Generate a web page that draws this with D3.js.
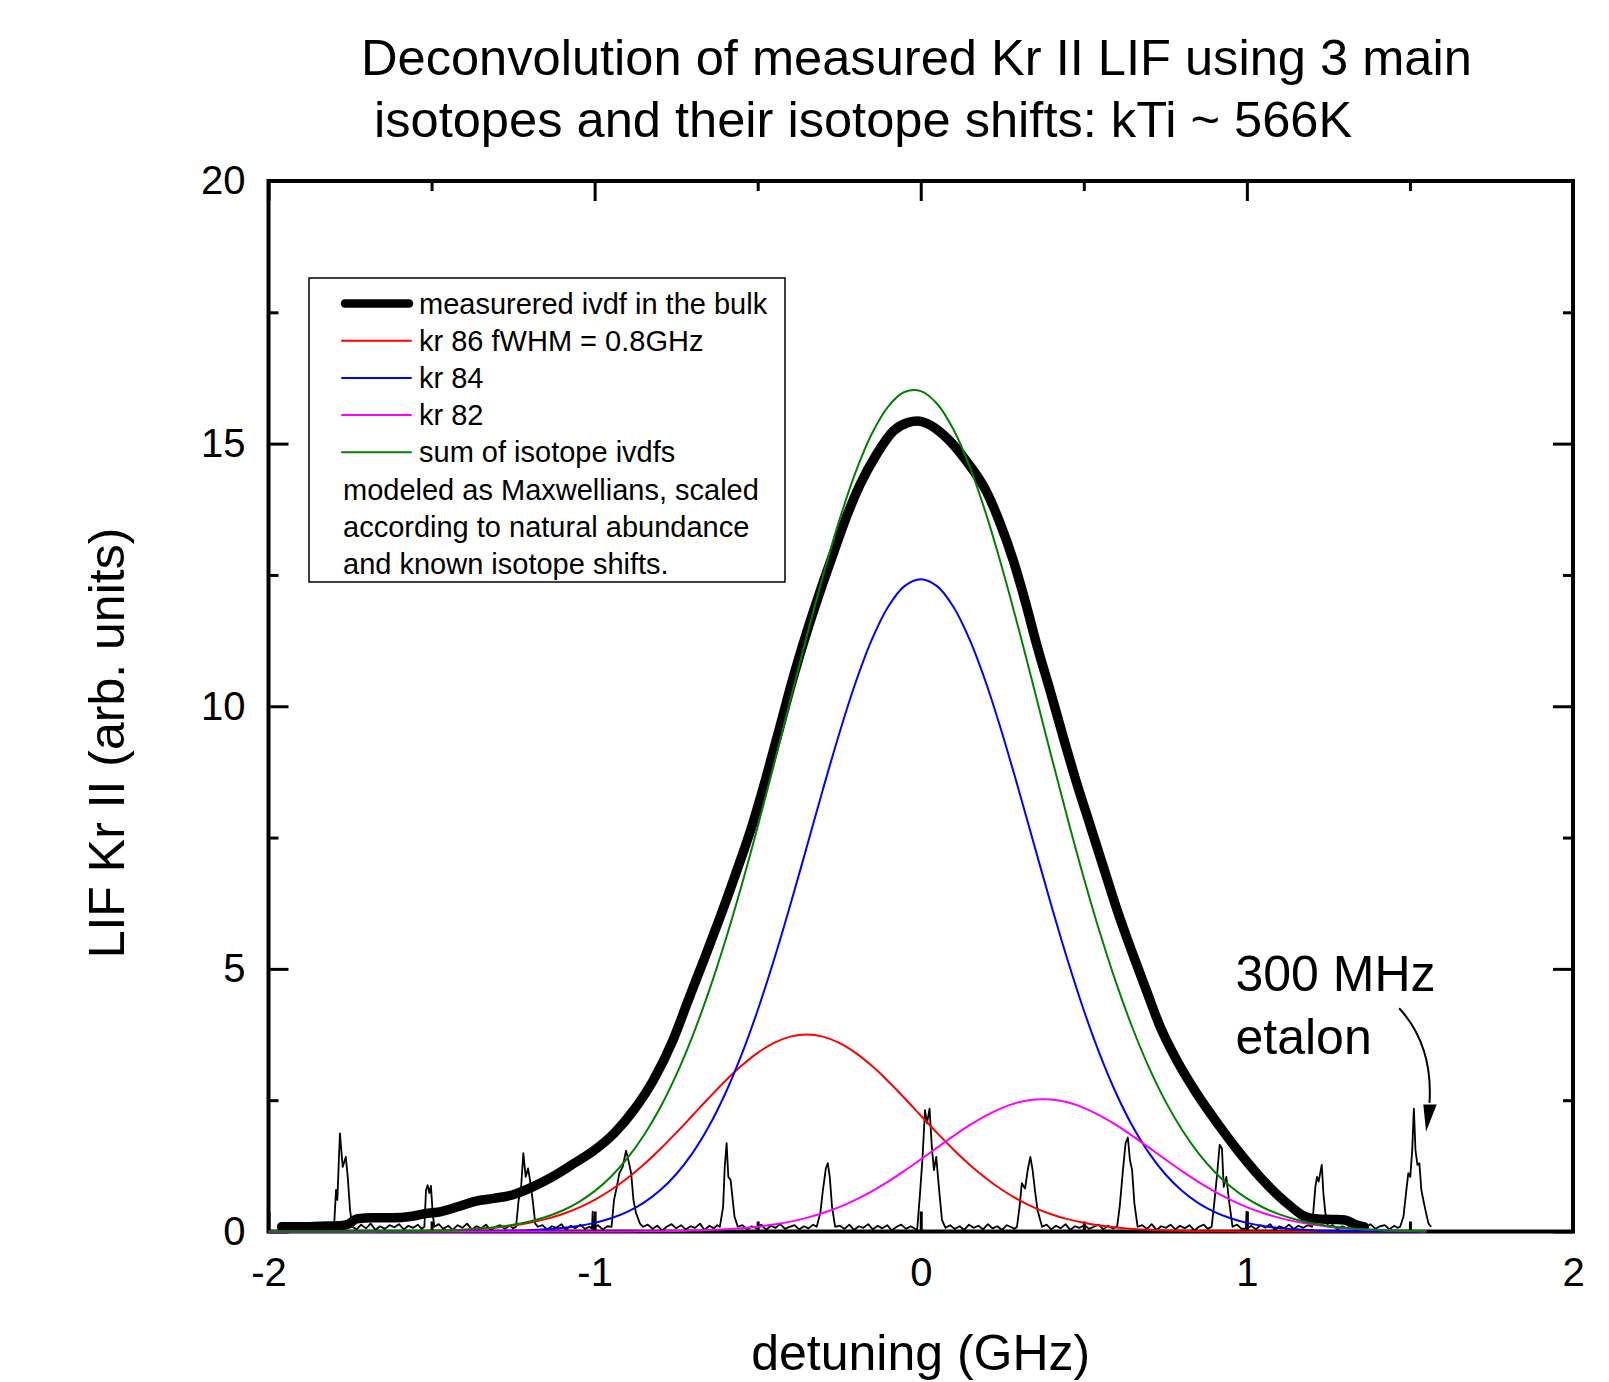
<!DOCTYPE html>
<html>
<head>
<meta charset="utf-8">
<style>
  body { margin: 0; background: #fff; }
  svg { display: block; font-family: "Liberation Sans", Arial, Helvetica, sans-serif; }
</style>
</head>
<body>
<svg width="1609" height="1382"></svg>
<script src="https://d3js.org/d3.v7.min.js"></script>
<script>

// detuning grid (GHz) shared by the modelled isotope curves
var detuning = [-2.00,-1.95,-1.90,-1.85,-1.80,-1.75,-1.70,-1.65,-1.60,-1.55,-1.50,-1.45,-1.40,-1.35,-1.30,-1.25,-1.20,-1.15,-1.10,-1.05,
  -1.00,-0.95,-0.90,-0.85,-0.80,-0.75,-0.70,-0.65,-0.60,-0.55,-0.50,-0.45,-0.40,-0.35,-0.30,-0.25,-0.20,-0.15,-0.10,-0.05,
  0.00,0.05,0.10,0.15,0.20,0.25,0.30,0.35,0.40,0.45,0.50,0.55,0.60,0.65,0.70,0.75,0.80,0.85,0.90,0.95,
  1.00,1.05,1.10,1.15,1.20,1.25,1.30,1.35,1.40,1.45,1.50,1.55];

var kr86 = [0,0,0,0,0,0.001,0.001,0.003,0.004,0.007,0.012,0.020,0.032,0.050,0.076,0.113,0.165,0.235,0.329,0.450,
  0.603,0.790,1.014,1.272,1.562,1.877,2.208,2.541,2.862,3.154,3.402,3.591,3.710,3.750,3.710,3.591,3.402,3.154,2.862,2.541,
  2.208,1.877,1.562,1.272,1.014,0.790,0.603,0.450,0.329,0.235,0.165,0.113,0.076,0.050,0.032,0.020,0.012,0.007,0.004,0.003,
  0.001,0,0,0,0,0,0,0,0,0,0,0];

var kr84 = [0,0,0,0,0,0,0,0,0,0,0.001,0.001,0.003,0.005,0.008,0.014,0.024,0.041,0.066,0.106,
  0.164,0.251,0.374,0.546,0.780,1.090,1.492,1.998,2.618,3.357,4.212,5.173,6.216,7.311,8.416,9.478,10.447,11.268,11.894,12.287,
  12.420,12.287,11.894,11.268,10.447,9.478,8.416,7.311,6.216,5.173,4.212,3.357,2.618,1.998,1.492,1.090,0.780,0.546,0.374,0.251,
  0.164,0.106,0.066,0.041,0.024,0.014,0.008,0.005,0.003,0.001,0.001,0];

var kr82 = [0,0,0,0,0,0,0,0,0,0,0,0,0,0,0,0,0,0,0,0,
  0.001,0.001,0.002,0.004,0.006,0.011,0.017,0.027,0.041,0.062,0.092,0.133,0.188,0.260,0.351,0.465,0.603,0.765,0.950,1.154,
  1.372,1.596,1.817,2.024,2.207,2.355,2.459,2.513,2.513,2.459,2.355,2.207,2.024,1.817,1.596,1.372,1.154,0.950,0.765,0.603,
  0.465,0.351,0.260,0.188,0.133,0.092,0.062,0.041,0.027,0.017,0.011,0.006];

var isotopeSum = [0,0,0,0,0,0.001,0.001,0.003,0.004,0.007,0.013,0.021,0.035,0.055,0.084,0.127,0.189,0.276,0.395,0.556,
  0.768,1.042,1.390,1.822,2.348,2.978,3.717,4.566,5.521,6.573,7.706,8.897,10.114,11.321,12.477,13.534,14.452,15.187,15.706,15.982,
  16.000,15.760,15.273,14.564,13.668,12.623,11.478,10.274,9.058,7.868,6.732,5.677,4.718,3.865,3.120,2.482,1.946,1.503,1.143,0.857,
  0.630,0.457,0.326,0.229,0.157,0.106,0.070,0.046,0.030,0.018,0.012,0.006];

// measured ivdf in the bulk: [detuning, LIF]
var measured = [[-1.96,0.09],[-1.90,0.09],[-1.84,0.10],[-1.78,0.11],[-1.755,0.14],[-1.73,0.24],[-1.68,0.26],[-1.62,0.26],
  [-1.56,0.29],[-1.52,0.34],[-1.47,0.38],[-1.42,0.47],[-1.37,0.57],[-1.31,0.63],[-1.25,0.70],[-1.19,0.85],[-1.13,1.04],
  [-1.07,1.27],[-1.00,1.55],[-0.94,1.87],[-0.88,2.31],[-0.82,2.88],[-0.76,3.64],[-0.71,4.45],[-0.66,5.25],[-0.615,5.99],
  [-0.564,6.87],[-0.513,7.81],[-0.472,8.69],[-0.431,9.63],[-0.391,10.55],[-0.350,11.40],[-0.309,12.18],[-0.268,12.91],
  [-0.227,13.62],[-0.186,14.22],[-0.135,14.80],[-0.084,15.24],[-0.04,15.40],[-0.01,15.43],[0.02,15.38],[0.069,15.17],
  [0.141,14.66],[0.202,14.08],[0.243,13.49],[0.284,12.77],[0.325,11.89],[0.356,11.16],[0.397,10.29],[0.437,9.41],
  [0.478,8.54],[0.519,7.74],[0.560,6.94],[0.601,6.14],[0.652,5.25],[0.693,4.57],[0.734,3.90],[0.785,3.26],[0.846,2.63],
  [0.918,1.99],[0.979,1.49],[1.04,1.04],[1.10,0.66],[1.14,0.45],[1.17,0.31],[1.20,0.25],[1.26,0.23],[1.30,0.22],
  [1.33,0.14],[1.36,0.09]];

// 300 MHz etalon trace: [detuning, LIF]
var etalon = [
  [-1.957,0.09],[-1.943,0.11],[-1.928,0.06],[-1.914,0.12],[-1.899,0.08],[-1.885,0.10],[-1.870,0.07],[-1.856,0.11],[-1.841,0.09],[-1.827,0.12],[-1.812,0.07],
  [-1.799,0.09],[-1.793,0.79],[-1.789,0.60],[-1.781,1.87],[-1.7725,1.23],[-1.763,1.42],[-1.757,1.04],[-1.750,0.41],[-1.743,0.09],
  [-1.730,0.04],[-1.716,0.13],[-1.701,0.06],[-1.687,0.15],[-1.672,0.03],[-1.658,0.10],[-1.643,0.05],[-1.629,0.12],[-1.614,0.08],[-1.600,0.14],[-1.585,0.04],[-1.571,0.11],[-1.556,0.07],[-1.542,0.13],[-1.530,0.05],
  [-1.522,0.09],[-1.517,0.79],[-1.512,0.88],[-1.507,0.73],[-1.502,0.87],[-1.4965,0.35],[-1.4915,0.09],
  [-1.478,0.14],[-1.464,0.05],[-1.449,0.11],[-1.435,0.03],[-1.420,0.12],[-1.406,0.07],[-1.391,0.15],[-1.377,0.04],[-1.362,0.10],[-1.348,0.06],[-1.333,0.13],[-1.319,0.02],[-1.304,0.09],[-1.290,0.12],[-1.275,0.05],[-1.261,0.11],[-1.250,0.06],
  [-1.241,0.09],[-1.233,0.60],[-1.226,0.79],[-1.2186,1.49],[-1.2113,1.04],[-1.2042,1.20],[-1.1981,0.98],[-1.190,0.60],[-1.182,0.15],[-1.174,0.09],
  [-1.160,0.12],[-1.146,0.04],[-1.131,0.10],[-1.117,0.07],[-1.102,0.14],[-1.088,0.03],[-1.073,0.11],[-1.059,0.06],[-1.044,0.13],[-1.030,0.05],[-1.015,0.09],[-1.008,0.05],[-1.006,0.38],[-1.004,0.06],[-0.990,0.12],[-0.975,0.04],[-0.961,0.10],
  [-0.948,0.09],[-0.9405,0.60],[-0.932,0.85],[-0.924,1.11],[-0.914,1.23],[-0.9037,1.54],[-0.8955,1.33],[-0.888,1.11],[-0.881,0.60],[-0.873,0.35],[-0.861,0.15],[-0.851,0.09],
  [-0.837,0.13],[-0.822,0.05],[-0.808,0.11],[-0.793,0.02],[-0.779,0.09],[-0.764,0.14],[-0.750,0.06],[-0.735,0.12],[-0.721,0.04],[-0.706,0.10],[-0.692,0.07],[-0.677,0.15],[-0.663,0.03],[-0.648,0.11],[-0.634,0.06],[-0.624,0.12],
  [-0.616,0.09],[-0.606,0.47],[-0.601,1.23],[-0.5953,1.68],[-0.590,1.04],[-0.583,0.98],[-0.5775,0.66],[-0.571,0.28],[-0.561,0.09],
  [-0.547,0.12],[-0.532,0.04],[-0.518,0.10],[-0.503,0.06],[-0.489,0.13],[-0.474,0.03],[-0.460,0.11],[-0.445,0.07],[-0.431,0.14],[-0.416,0.05],[-0.402,0.09],[-0.387,0.12],[-0.373,0.04],[-0.358,0.10],[-0.344,0.06],[-0.330,0.13],
  [-0.319,0.09],[-0.308,0.35],[-0.300,0.79],[-0.291,1.20],[-0.285,1.30],[-0.279,1.04],[-0.272,0.47],[-0.2625,0.09],
  [-0.248,0.11],[-0.234,0.05],[-0.219,0.13],[-0.205,0.03],[-0.190,0.10],[-0.176,0.07],[-0.161,0.14],[-0.147,0.04],[-0.132,0.11],[-0.118,0.06],[-0.103,0.12],[-0.089,0.02],[-0.074,0.09],[-0.060,0.13],[-0.045,0.05],[-0.031,0.10],[-0.020,0.06],
  [-0.011,0.03],[-0.003,0.66],[0.005,1.36],[0.013,2.31],[0.019,2.06],[0.027,2.34],[0.034,1.61],[0.0405,1.17],[0.0475,1.42],[0.0555,0.85],[0.065,0.22],[0.076,0.07],
  [0.090,0.12],[0.104,0.05],[0.119,0.10],[0.133,0.03],[0.148,0.13],[0.162,0.07],[0.177,0.11],[0.191,0.04],[0.206,0.14],[0.220,0.06],[0.235,0.10],[0.249,0.03],[0.264,0.12],[0.278,0.08],[0.288,0.05],
  [0.295,0.09],[0.303,0.47],[0.310,0.92],[0.320,0.82],[0.328,1.17],[0.336,1.42],[0.343,1.17],[0.350,0.79],[0.358,0.41],[0.372,0.09],
  [0.386,0.13],[0.400,0.04],[0.415,0.11],[0.429,0.06],[0.444,0.14],[0.458,0.03],[0.473,0.10],[0.487,0.07],[0.502,0.12],[0.516,0.05],[0.531,0.09],[0.545,0.13],[0.560,0.04],[0.574,0.11],[0.589,0.06],
  [0.602,0.09],[0.610,0.47],[0.620,1.17],[0.628,1.68],[0.635,1.79],[0.6415,1.36],[0.648,1.17],[0.655,0.54],[0.665,0.09],
  [0.679,0.12],[0.694,0.05],[0.708,0.14],[0.723,0.03],[0.737,0.10],[0.752,0.07],[0.766,0.13],[0.781,0.04],[0.795,0.11],[0.810,0.06],[0.824,0.12],[0.839,0.02],[0.853,0.09],[0.868,0.13],[0.880,0.05],
  [0.892,0.09],[0.900,0.54],[0.9086,1.08],[0.9166,1.65],[0.9236,1.58],[0.929,0.85],[0.937,1.04],[0.945,0.60],[0.956,0.09],
  [0.970,0.13],[0.984,0.05],[0.997,0.06],[0.999,0.38],[1.001,0.05],[1.013,0.11],[1.028,0.04],[1.042,0.12],[1.057,0.07],[1.071,0.14],[1.086,0.03],[1.100,0.10],[1.115,0.06],[1.129,0.13],[1.144,0.05],[1.158,0.11],[1.173,0.07],[1.187,0.12],
  [1.200,0.09],[1.205,0.47],[1.210,0.85],[1.215,1.04],[1.220,0.95],[1.225,1.11],[1.2296,1.27],[1.2346,0.73],[1.2407,0.35],[1.249,0.09],
  [1.263,0.12],[1.278,0.04],[1.292,0.10],[1.307,0.06],[1.321,0.13],[1.336,0.03],[1.350,0.11],[1.365,0.07],[1.379,0.14],[1.394,0.05],[1.408,0.10],[1.423,0.12],[1.437,0.04],[1.452,0.11],[1.462,0.07],
  [1.470,0.09],[1.480,0.28],[1.488,0.73],[1.495,1.11],[1.501,1.04],[1.507,1.55],[1.512,2.34],[1.517,1.55],[1.523,1.27],[1.529,1.30],[1.535,0.79],[1.541,0.60],[1.5495,0.35],[1.557,0.15],[1.565,0.09]];

var xTicks = [-2, -1, 0, 1, 2],
    xMinorTicks = [-1.5, -0.5, 0.5, 1.5],
    yTicks = [0, 5, 10, 15, 20],
    yMinorTicks = [2.5, 7.5, 12.5, 17.5];

var titleLines = ["Deconvolution of measured Kr II LIF using 3 main",
                  "isotopes and their isotope shifts: kTi ~ 566K"];

var legendItems = [
  {label: "measurered ivdf in the bulk", color: "#000", width: 8.5},
  {label: "kr 86 fWHM = 0.8GHz", color: "#ff0000", width: 2},
  {label: "kr 84", color: "#0000ff", width: 2},
  {label: "kr 82", color: "#ff00ff", width: 2},
  {label: "sum of isotope ivdfs", color: "#008000", width: 2}
];
var legendNote = ["modeled as Maxwellians, scaled",
                  "according to natural abundance",
                  "and known isotope shifts."];

var svg = d3.select("svg"),
    width = +svg.attr("width"),
    height = +svg.attr("height");

var margin = {top: 181, right: 36, bottom: 150.5, left: 268.5};

var x = d3.scaleLinear().domain([-2, 2]).range([margin.left, width - margin.right]),
    y = d3.scaleLinear().domain([0, 20]).range([height - margin.bottom, margin.top]);

var fmt = function(d) { return String(d); };

function styleAxis(g) {
  g.select(".domain").remove();
  g.attr("font-family", null).attr("font-size", 40);
  g.selectAll(".tick line").attr("stroke", "#000").attr("stroke-width", 3);
  g.selectAll(".tick text").attr("fill", "#000");
}

// ticks point inward on all four sides
svg.append("g")
    .attr("transform", "translate(0," + y(0) + ")")
    .call(d3.axisBottom(x).tickValues(xTicks).tickSize(-20).tickSizeOuter(0).tickPadding(26).tickFormat(fmt))
    .call(styleAxis);
svg.append("g")
    .attr("transform", "translate(0," + y(0) + ")")
    .call(d3.axisBottom(x).tickValues(xMinorTicks).tickSize(-10).tickSizeOuter(0).tickFormat(""))
    .call(styleAxis);
svg.append("g")
    .attr("transform", "translate(0," + y(20) + ")")
    .call(d3.axisTop(x).tickValues(xTicks).tickSize(-20).tickSizeOuter(0).tickFormat(""))
    .call(styleAxis);
svg.append("g")
    .attr("transform", "translate(0," + y(20) + ")")
    .call(d3.axisTop(x).tickValues(xMinorTicks).tickSize(-10).tickSizeOuter(0).tickFormat(""))
    .call(styleAxis);

svg.append("g")
    .attr("transform", "translate(" + x(-2) + ",0)")
    .call(d3.axisLeft(y).tickValues(yTicks).tickSize(-20).tickSizeOuter(0).tickPadding(23).tickFormat(fmt))
    .call(styleAxis);
svg.append("g")
    .attr("transform", "translate(" + x(-2) + ",0)")
    .call(d3.axisLeft(y).tickValues(yMinorTicks).tickSize(-10).tickSizeOuter(0).tickFormat(""))
    .call(styleAxis);
svg.append("g")
    .attr("transform", "translate(" + x(2) + ",0)")
    .call(d3.axisRight(y).tickValues(yTicks).tickSize(-20).tickSizeOuter(0).tickFormat(""))
    .call(styleAxis);
svg.append("g")
    .attr("transform", "translate(" + x(2) + ",0)")
    .call(d3.axisRight(y).tickValues(yMinorTicks).tickSize(-10).tickSizeOuter(0).tickFormat(""))
    .call(styleAxis);

svg.append("rect")
    .attr("x", x(-2))
    .attr("y", y(20))
    .attr("width", x(2) - x(-2))
    .attr("height", y(0) - y(20))
    .attr("fill", "none")
    .attr("stroke", "#000")
    .attr("stroke-width", 4);

// traces
var pairLine = d3.line()
    .x(function(d) { return x(d[0]); })
    .y(function(d) { return y(d[1]); });

var modelLine = d3.line()
    .x(function(d, i) { return x(detuning[i]); })
    .y(function(d) { return y(d); })
    .curve(d3.curveCatmullRom);

svg.append("path")
    .datum(etalon)
    .attr("fill", "none")
    .attr("stroke", "#000")
    .attr("stroke-width", 1.8)
    .attr("stroke-linejoin", "round")
    .attr("d", pairLine);

svg.append("path")
    .datum(measured)
    .attr("fill", "none")
    .attr("stroke", "#000")
    .attr("stroke-width", 9.5)
    .attr("stroke-linejoin", "round")
    .attr("stroke-linecap", "round")
    .attr("d", pairLine.curve(d3.curveMonotoneX));

[[kr86, "#ff0000"], [kr84, "#0000ff"], [kr82, "#ff00ff"], [isotopeSum, "#008000"]].forEach(function(s) {
  svg.append("path")
      .datum(s[0])
      .attr("fill", "none")
      .attr("stroke", s[1])
      .attr("stroke-width", 2)
      .attr("d", modelLine);
});

// legend
var legend = svg.append("g").attr("font-size", 29);

legend.append("rect")
    .attr("x", 309)
    .attr("y", 278)
    .attr("width", 476)
    .attr("height", 304)
    .attr("fill", "#fff")
    .attr("stroke", "#000")
    .attr("stroke-width", 1.5);

var row = legend.selectAll("g.row")
    .data(legendItems)
    .enter().append("g")
    .attr("class", "row")
    .attr("transform", function(d, i) { return "translate(0," + (303.5 + i * 37.2) + ")"; });

row.append("line")
    .attr("x1", function(d) { return d.width > 3 ? 345 : 342; })
    .attr("x2", function(d) { return d.width > 3 ? 409 : 411; })
    .attr("stroke", function(d) { return d.color; })
    .attr("stroke-width", function(d) { return d.width; })
    .attr("stroke-linecap", "round");

row.append("text")
    .attr("x", 419)
    .attr("dy", "0.35em")
    .text(function(d) { return d.label; });

legend.selectAll("text.note")
    .data(legendNote)
    .enter().append("text")
    .attr("class", "note")
    .attr("x", 343)
    .attr("y", function(d, i) { return 303.5 + (legendItems.length + i) * 37.2; })
    .attr("dy", "0.35em")
    .text(function(d) { return d; });

// titles
svg.selectAll("text.title")
    .data(titleLines)
    .enter().append("text")
    .attr("class", "title")
    .attr("x", function(d, i) { return i ? 374 : 361; })
    .attr("y", function(d, i) { return 75 + i * 61.5; })
    .attr("font-size", 50.6)
    .text(function(d) { return d; });

svg.append("text")
    .attr("x", x(0))
    .attr("y", 1352)
    .attr("dy", "0.35em")
    .attr("text-anchor", "middle")
    .attr("font-size", 50)
    .text("detuning (GHz)");

svg.append("text")
    .attr("transform", "translate(106," + y(9.3) + ") rotate(-90)")
    .attr("dy", "0.35em")
    .attr("text-anchor", "middle")
    .attr("font-size", 50)
    .text("LIF Kr II (arb. units)");

// etalon annotation
var note = svg.append("g").attr("font-size", 50);
note.append("text").attr("x", x(0.965)).attr("y", y(4.58)).text("300 MHz");
note.append("text").attr("x", x(0.965)).attr("y", y(3.38)).text("etalon");

var arrow = d3.path();
arrow.moveTo(x(1.467), y(4.25));
arrow.quadraticCurveTo(x(1.571), y(3.55), x(1.56), y(2.45));
svg.append("path")
    .attr("d", arrow.toString())
    .attr("fill", "none")
    .attr("stroke", "#000")
    .attr("stroke-width", 2);

svg.append("path")
    .attr("d", d3.line()([[x(1.541), y(2.42)], [x(1.582), y(2.42)], [x(1.5495), y(1.90)]]) + "Z")
    .attr("fill", "#000");

</script>
</body>
</html>
